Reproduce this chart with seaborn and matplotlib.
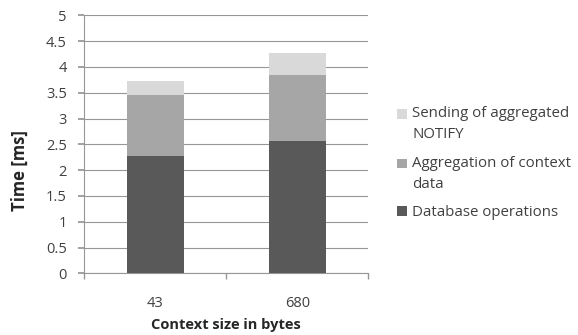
import matplotlib
matplotlib.use("Agg")
import matplotlib.pyplot as plt
import seaborn as sns
import pandas as pd
import numpy as np
from matplotlib.patches import Patch, Rectangle
from matplotlib.legend_handler import HandlerPatch

categories = ["43", "680"]
database_ops = [2.27, 2.57]
aggregation = [1.19, 1.28]
sending = [0.27, 0.43]
series_names = ["Sending of aggregated\nNOTIFY", "Aggregation of context\ndata", "Database operations"]
colors = ["#d9d9d9", "#a6a6a6", "#595959"]

sns.set_theme(style="white")
plt.rcParams['font.family'] = ['Open Sans', 'DejaVu Sans']

fig = plt.figure(figsize=(5.78, 3.35), dpi=100)
ax = fig.add_axes([0.1457, 0.184, 0.637 - 0.1457, 0.954 - 0.184])

db = np.array(database_ops)
ag = db + np.array(aggregation)
se = ag + np.array(sending)
df = pd.DataFrame({"cat": categories, "db": db, "ag": ag, "se": se})

for col, c in zip(["se", "ag", "db"], colors):
    sns.barplot(data=df, x="cat", y=col, color=c, width=0.4, ax=ax,
                saturation=1, linewidth=0, zorder=3)

ticks = np.arange(0, 5.01, 0.5)
ax.set_ylim(0, 5)
ax.set_yticks(ticks)
ax.set_yticklabels([f"{v:g}" for v in ticks])
ax.set_xlim(-0.5, 1.5)
ax.yaxis.grid(True, color="#969696", linewidth=0.8, zorder=0)
ax.set_axisbelow(True)
for s in ["top", "right"]:
    ax.spines[s].set_visible(False)
for s in ["left", "bottom"]:
    ax.spines[s].set_color("#969696")
    ax.spines[s].set_linewidth(0.8)

ax.tick_params(axis="y", which="both", left=True, length=4, direction="out",
               color="#969696", labelsize=10.5, labelcolor="#404040", pad=8.5)
ax.tick_params(axis="x", which="major", bottom=False, length=0, labelsize=10.5,
               labelcolor="#404040", pad=16)
ax.set_xticks([-0.5, 0.5, 1.5], minor=True)
ax.tick_params(axis="x", which="minor", bottom=True, length=4, direction="out",
               color="#969696")

ax.set_xlabel("Context size in bytes", fontsize=10.5, fontweight="bold",
              color="#262626", labelpad=5.5)
ax.set_ylabel("Time [ms]", fontsize=12, fontweight="bold", color="#262626")
ax.yaxis.set_label_coords((29 - 84.3) / 283.4, (273.3 - 170) / 258)


class ShiftedHandler(HandlerPatch):
    def __init__(self, dy):
        super().__init__()
        self.dy = dy

    def create_artists(self, legend, orig_handle, xdescent, ydescent,
                       width, height, fontsize, trans):
        p = Rectangle((-xdescent, -ydescent + self.dy), width, height)
        self.update_prop(p, orig_handle, legend)
        p.set_transform(trans)
        return [p]


handles = [Patch(facecolor=c, edgecolor="none") for c in colors]
shift = 7.5
hmap = {handles[0]: ShiftedHandler(shift), handles[1]: ShiftedHandler(shift),
        handles[2]: ShiftedHandler(0)}
leg = fig.legend(handles, series_names, loc="upper left",
                 bbox_to_anchor=(397 / 578, 1 - 106 / 335),
                 frameon=False, fontsize=10.8, handlelength=0.65, handleheight=0.6,
                 handletextpad=0.35, labelspacing=0.9, borderpad=0, borderaxespad=0,
                 labelcolor="#404040", handler_map=hmap)
for t in leg.get_texts():
    t.set_linespacing(1.55)

fig.savefig("out.png", dpi=100)
